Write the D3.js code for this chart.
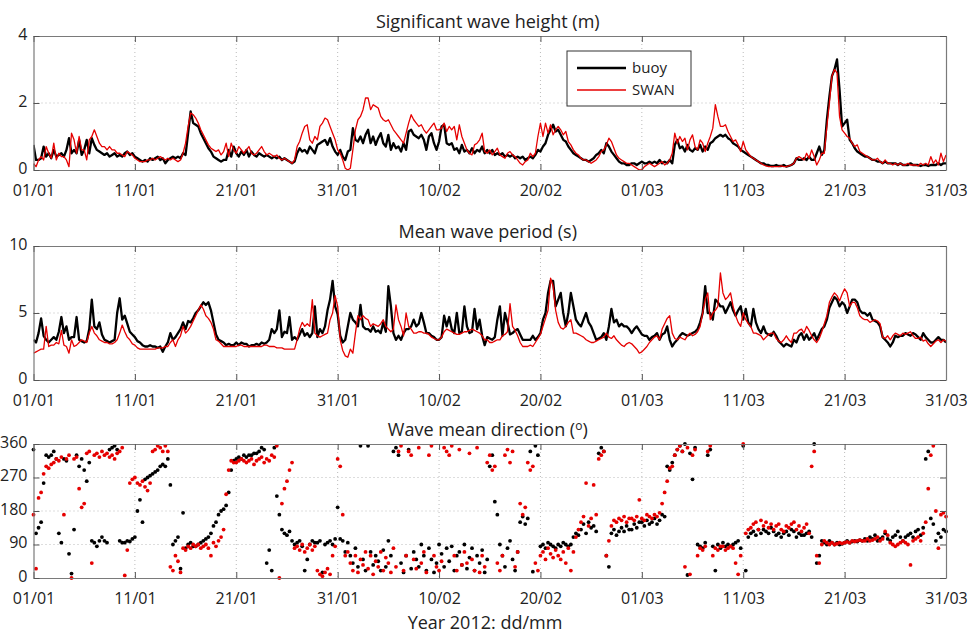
<!DOCTYPE html>
<html><head><meta charset="utf-8">
<script src="https://cdn.jsdelivr.net/npm/d3@7"></script>
<style>
body{margin:0;background:#fff;}
text{font-family:"Open Sans",sans-serif;}
</style>
</head><body>
<svg id="c" width="969" height="633"></svg>
<script>
// ---------- data (6-hourly samples, 01/01/2012 00h .. 31/03/2012 00h) ----------
const tickLabels = ["01/01","11/01","21/01","31/01","10/02","20/02","01/03","11/03","21/03","31/03"];
const tickDateStrings = ["2012-01-01","2012-01-11","2012-01-21","2012-01-31","2012-02-10","2012-02-20","2012-03-01","2012-03-11","2012-03-21","2012-03-31"];
const hsTicks = [0,2,4];
const tmTicks = [0,5,10];
const dirTicks = [0,90,180,270,360];
const seriesNames = ["buoy","SWAN"];

const hsBuoy = [
0.75,0.3,0.3,0.35, 0.7,0.4,0.5,0.35, 0.6,0.4,0.45,0.5, 0.4,0.6,0.95,0.5, 0.6,0.5,0.9,0.45,
0.6,0.9,0.5,0.95, 0.75,0.6,0.55,0.5, 0.45,0.5,0.4,0.45, 0.5,0.4,0.45,0.4, 0.5,0.55,0.45,0.5,
0.4,0.35,0.3,0.25, 0.3,0.25,0.35,0.3, 0.35,0.4,0.3,0.35, 0.2,0.3,0.35,0.4, 0.35,0.4,0.35,0.5,
0.45,1.1,1.75,1.4, 1.35,1.3,1.1,0.95, 0.8,0.65,0.55,0.4, 0.35,0.3,0.25,0.3, 0.3,0.6,0.4,0.7,
0.5,0.4,0.55,0.45, 0.6,0.4,0.55,0.45, 0.4,0.5,0.45,0.4, 0.45,0.4,0.35,0.4, 0.35,0.4,0.3,0.35,
0.3,0.25,0.2,0.25, 0.5,0.65,0.55,0.6, 0.5,0.7,0.6,0.5, 0.75,0.8,0.85,0.9, 0.75,0.95,0.7,0.55,
0.45,0.6,0.4,0.3, 0.55,0.6,1.25,0.9, 0.85,1.0,0.8,1.05, 1.2,0.8,1.0,0.75, 0.95,1.1,0.8,0.7,
1.05,0.6,0.8,0.65, 0.7,0.55,0.8,0.6, 1.15,1.2,1.05,1.0, 0.95,1.05,0.9,0.6, 1.0,1.1,0.8,0.6,
0.85,1.3,1.35,0.8, 0.75,0.8,0.6,0.65, 0.5,0.75,0.55,0.6, 0.5,0.65,0.5,0.6, 0.55,0.7,0.5,0.6,
0.5,0.6,0.45,0.5, 0.45,0.5,0.4,0.45, 0.4,0.45,0.35,0.4, 0.35,0.4,0.3,0.35, 0.4,0.35,0.45,0.6,
0.55,0.7,0.8,1.05, 1.2,1.35,1.15,1.2, 1.05,0.9,0.85,0.7, 0.6,0.5,0.45,0.4, 0.35,0.3,0.3,0.25,
0.3,0.35,0.45,0.5, 0.6,0.5,0.8,0.7, 0.55,0.45,0.35,0.25, 0.2,0.2,0.15,0.15, 0.2,0.2,0.15,0.2,
0.25,0.2,0.2,0.25, 0.2,0.25,0.2,0.3, 0.2,0.25,0.2,0.3, 0.2,0.75,0.9,0.65, 0.7,0.55,0.75,0.6,
0.55,0.65,0.6,0.75, 0.55,0.7,0.6,0.8, 0.85,0.95,1.0,1.05, 1.0,1.05,0.95,0.9, 0.8,0.75,0.7,0.6,
0.55,0.5,0.45,0.4, 0.35,0.3,0.25,0.2, 0.2,0.15,0.15,0.12, 0.12,0.15,0.12,0.12, 0.15,0.1,0.12,0.15,
0.2,0.35,0.3,0.3, 0.35,0.3,0.4,0.3, 0.3,0.5,0.7,0.45, 0.6,1.5,2.2,2.8, 3.0,3.3,2.4,1.3,
1.4,1.5,0.9,0.8, 0.65,0.55,0.5,0.45, 0.4,0.4,0.35,0.3, 0.3,0.25,0.25,0.2, 0.25,0.2,0.2,0.2,
0.2,0.15,0.2,0.15, 0.15,0.15,0.2,0.15, 0.15,0.15,0.12,0.15, 0.15,0.12,0.15,0.15, 0.15,0.2,0.15,0.2,
0.2];

const hsSwan = [
0.2,0.1,0.3,0.4, 0.3,0.7,0.5,0.35, 0.8,0.3,0.5,0.4, 0.4,0.3,0.1,1.1, 0.9,0.5,1.0,0.6,
0.6,0.3,0.9,1.0, 1.2,1.0,0.8,0.7, 0.7,0.6,0.7,0.6, 0.6,0.5,0.5,0.45, 0.4,0.55,0.5,0.45,
0.35,0.3,0.25,0.25, 0.25,0.3,0.3,0.35, 0.3,0.35,0.4,0.35, 0.3,0.35,0.3,0.35, 0.3,0.25,0.3,0.5,
0.8,1.3,1.7,1.65, 1.55,1.4,1.2,1.05, 0.9,0.75,0.65,0.6, 0.55,0.6,0.45,0.55, 0.8,0.4,0.8,0.6,
0.5,0.7,0.6,0.5, 0.6,0.7,0.5,0.45, 0.5,0.6,0.7,0.55, 0.45,0.5,0.45,0.4, 0.45,0.35,0.3,0.35,
0.3,0.25,0.2,0.3, 0.7,0.85,1.1,1.3, 1.35,0.9,0.8,1.0, 0.9,1.3,1.4,1.55, 1.5,1.3,1.1,0.9,
0.6,0.5,0.3,0.05, 0.0,0.05,0.6,1.2, 1.5,1.6,1.8,2.15, 2.15,1.8,1.95,1.9, 1.85,1.6,1.5,1.45,
1.5,1.35,1.2,1.1, 1.0,0.9,0.8,1.1, 1.4,1.65,1.5,1.4, 1.3,1.35,1.2,1.1, 1.2,1.3,1.4,1.2,
1.2,1.25,1.4,1.15, 1.3,1.2,1.3,0.9, 1.35,1.0,0.8,0.6, 0.5,0.45,0.75,0.8, 0.9,1.1,0.55,0.5,
0.6,0.45,0.55,0.65, 0.45,0.4,0.35,0.5, 0.55,0.45,0.4,0.3, 0.2,0.15,0.25,0.3, 0.5,0.4,0.5,1.0,
1.4,1.0,1.4,1.1, 1.35,1.05,1.2,1.3, 1.2,1.05,1.15,0.85, 0.75,0.6,0.5,0.45, 0.35,0.3,0.3,0.25,
0.2,0.25,0.3,0.4, 0.55,0.6,0.75,0.95, 0.85,0.65,0.45,0.35, 0.3,0.25,0.2,0.2, 0.15,0.1,0.05,0.0,
0.0,0.1,0.15,0.2, 0.15,0.1,0.15,0.2, 0.25,0.15,0.2,0.3, 0.5,1.1,0.8,1.0, 0.85,0.95,0.6,0.9,
1.05,0.7,0.6,0.9, 0.8,0.55,0.8,1.0, 1.25,1.95,1.6,1.3, 1.3,1.35,1.15,1.0, 0.85,0.9,0.75,0.55,
0.85,0.6,0.5,0.4, 0.35,0.3,0.25,0.2, 0.15,0.12,0.1,0.1, 0.1,0.1,0.1,0.12, 0.1,0.1,0.12,0.15,
0.2,0.35,0.4,0.35, 0.3,0.5,0.35,0.6, 0.4,0.15,0.3,0.5, 0.5,1.3,2.0,2.8, 3.0,2.9,1.6,1.2,
1.1,1.0,0.95,0.8, 0.7,0.75,0.55,0.5, 0.45,0.4,0.35,0.3, 0.3,0.35,0.25,0.2, 0.3,0.2,0.2,0.15,
0.2,0.15,0.2,0.15, 0.15,0.2,0.15,0.15, 0.15,0.12,0.2,0.15, 0.2,0.15,0.4,0.2, 0.3,0.15,0.5,0.25,
0.45];

const tmBuoy = [
3.0,2.8,3.5,4.6, 3.3,3.0,2.8,3.0, 3.2,3.0,3.6,4.7, 3.5,4.0,3.0,3.2, 3.2,4.7,3.0,2.9,
2.8,2.9,3.8,6.0, 4.0,3.8,4.3,3.4, 3.0,2.9,2.8,2.9, 3.0,5.0,6.1,4.5, 4.8,4.2,3.6,3.4,
3.2,2.9,2.8,2.6, 2.5,2.5,2.6,2.5, 2.5,2.4,2.5,2.1, 2.5,2.8,3.5,3.0, 3.2,3.5,3.8,4.3,
3.8,4.4,4.3,4.6, 5.0,5.2,5.5,5.8, 5.6,5.8,5.2,4.3, 3.4,3.0,2.9,2.8, 2.6,2.7,2.6,2.6,
2.8,2.6,2.8,2.7, 2.7,2.5,2.6,2.6, 2.7,2.6,2.8,2.7, 2.8,3.0,3.8,3.5, 3.8,5.2,3.2,3.6,
3.5,4.7,3.0,3.2, 3.0,3.4,3.8,3.3, 3.5,3.2,3.5,5.5, 3.2,3.8,3.5,4.0, 5.2,6.0,7.4,5.5,
4.9,3.3,2.8,3.0, 4.0,5.0,4.5,4.3, 4.0,5.6,4.0,3.8, 3.8,3.6,4.0,3.6, 3.7,3.5,4.3,3.6,
7.0,5.5,3.5,3.0, 3.3,3.0,3.5,3.8, 3.8,4.0,4.5,4.0, 4.2,5.0,4.3,3.5, 3.5,3.3,3.2,3.0,
3.0,3.2,4.8,4.0, 4.7,3.8,3.5,5.0, 3.5,3.6,5.5,4.0, 3.5,3.6,5.3,3.8, 4.5,3.3,2.6,3.2,
3.1,3.0,3.2,4.5, 5.5,3.3,5.0,4.3, 3.4,3.5,3.7,3.8, 3.4,3.0,3.0,3.0, 3.0,3.3,3.0,3.2,
3.5,4.5,5.0,6.5, 7.4,7.4,5.5,6.0, 6.5,5.0,4.0,5.0, 6.5,5.5,4.5,4.2, 4.0,4.5,5.0,4.3,
4.0,3.5,3.0,3.1, 3.2,3.5,3.0,4.0, 5.3,4.3,4.5,4.0, 4.2,4.0,4.0,3.8, 3.5,3.8,4.0,3.7,
3.4,3.3,3.3,3.0, 3.2,3.3,3.5,3.0, 3.4,3.5,4.0,3.0, 2.5,2.8,3.0,3.3, 3.5,3.4,3.3,3.4,
3.5,3.6,3.8,4.3, 5.0,7.0,5.0,5.0, 4.5,6.0,5.8,5.5, 5.5,5.0,5.4,5.8, 5.2,4.8,5.2,5.5,
4.5,5.3,4.3,4.0, 5.3,4.3,3.8,3.5, 4.0,3.5,3.4,3.3, 3.6,3.3,2.9,2.7, 2.5,2.7,2.6,2.5,
3.0,2.8,3.3,3.5, 3.0,3.4,3.0,3.2, 3.5,3.0,3.4,3.8, 4.0,4.5,5.4,5.8, 6.2,6.0,5.5,5.8,
5.6,5.0,5.5,6.0, 6.0,5.8,5.2,5.0, 5.0,4.8,5.0,4.5, 4.4,4.3,4.0,3.2, 3.0,2.8,2.5,2.8,
3.3,3.2,3.3,3.3, 3.5,3.4,3.3,3.5, 3.4,3.2,3.0,3.5, 3.2,3.0,2.8,2.8, 3.0,3.2,3.0,3.0,
2.8];

const tmSwan = [
2.0,2.1,2.2,2.3, 2.3,4.0,2.5,2.6, 2.6,2.8,2.7,3.7, 2.6,2.5,2.0,3.0, 2.5,2.6,2.8,3.0,
2.9,2.8,3.5,4.0, 3.5,3.3,3.0,2.9, 2.8,2.8,2.7,2.7, 2.8,3.0,3.5,4.1, 3.6,3.2,3.0,2.7,
2.6,2.4,2.3,2.3, 2.3,2.3,2.3,2.3, 2.3,2.4,2.4,2.4, 2.5,2.5,2.8,3.0, 2.5,3.0,3.3,4.0,
3.5,3.7,4.0,4.4, 4.8,5.2,5.6,5.3, 4.8,4.6,4.3,3.8, 3.0,2.9,2.7,2.5, 2.5,2.5,2.5,2.5,
2.5,2.6,2.6,2.5, 2.5,2.5,2.5,2.5, 2.5,2.5,2.5,2.6, 2.6,2.5,2.5,2.5, 2.4,2.4,2.4,2.3,
2.3,2.3,2.3,2.3, 3.0,3.8,4.3,4.0, 4.2,4.0,6.0,3.5, 3.3,3.2,3.3,3.4, 3.5,4.5,5.0,6.3,
5.5,3.0,2.2,1.8, 1.7,2.3,2.0,3.5, 4.8,4.5,4.8,4.6, 4.5,4.0,4.2,4.1, 4.0,4.2,4.5,4.0,
3.8,3.6,3.8,5.6, 4.5,4.0,3.3,5.0, 4.0,3.8,3.5,3.5, 3.6,3.6,3.5,3.5, 3.4,3.2,3.1,3.0,
3.0,3.2,3.6,3.8, 3.7,3.6,3.5,3.4, 3.4,3.5,3.6,3.6, 3.7,3.8,3.7,3.6, 3.5,3.3,3.0,3.0,
2.8,2.8,2.9,3.0, 3.0,3.3,3.4,3.6, 5.7,4.0,3.7,3.3, 2.8,2.5,2.5,2.5, 2.6,2.5,2.8,3.1,
3.4,4.0,4.6,5.2, 7.6,7.0,5.2,4.3, 3.9,3.8,4.0,4.3, 4.5,3.5,3.5,3.4, 3.3,3.2,3.0,2.9,
2.8,2.8,2.9,3.0, 3.1,3.2,3.5,3.2, 3.1,3.3,3.0,2.8, 2.6,2.5,2.7,2.8, 2.7,2.5,2.3,2.0,
2.1,2.3,2.5,2.8, 3.0,3.2,3.3,3.0, 3.8,4.2,4.6,4.8, 3.5,3.1,3.0,3.2, 3.1,3.0,3.3,3.5,
3.3,3.4,3.6,4.0, 5.0,6.0,6.5,4.5, 5.0,5.2,5.5,8.0, 6.5,6.0,6.2,6.5, 5.5,4.8,4.3,4.0,
5.0,4.5,4.2,4.0, 3.5,3.5,3.4,3.3, 3.0,3.2,3.4,3.5, 3.5,3.1,2.9,2.8, 3.0,3.3,3.0,2.8,
3.5,3.5,3.7,3.8, 3.5,4.0,3.7,3.3, 3.0,2.8,3.1,3.6, 4.2,4.8,5.8,6.2, 6.5,6.3,5.9,6.4,
6.8,6.5,5.5,5.8, 5.8,5.4,4.8,4.6, 4.5,4.5,4.3,4.4, 4.5,4.4,4.2,3.2, 3.1,3.3,3.0,3.3,
3.5,3.4,3.3,3.5, 3.4,3.5,3.6,3.3, 3.1,3.1,3.2,2.9, 3.0,2.7,2.5,2.7, 2.9,3.0,2.8,3.0,
2.9];

const dirBuoy = [
345,120,135,150, 255,330,325,330, 340,320,120,95, 320,315,65,12, 130,330,300,320,
290,260,310,100, 95,85,100,110, 100,95,345,350, 355,345,100,95, 95,100,98,105,
110,180,210,150, 265,270,275,280, 285,290,300,305, 300,320,250,90, 100,110,25,175,
80,90,95,85, 85,90,95,100, 105,110,120,140, 150,170,180,185, 195,230,290,315,
320,325,320,330, 325,330,330,335, 335,340,350,345, 40,75,20,350, 220,170,130,120,
115,125,100,90, 95,100,85,20, 50,90,100,95, 95,100,15,90, 95,100,90,105,
190,105,100,70, 95,60,40,80, 30,355,50,20, 355,70,35,60, 45,20,75,30,
100,60,340,350, 330,40,15,60, 345,25,70,50, 30,90,60,20, 80,50,15,40,
90,65,30,80, 45,85,20,60, 70,35,90,25, 55,80,20,60, 40,75,15,50,
300,330,205,170, 90,60,30,80, 100,50,20,70, 150,165,145,160, 340,17,355,330,
85,90,80,95, 90,85,80,90, 85,95,90,85, 90,110,120,115, 130,145,120,150,
135,140,125,335, 350,340,60,30, 120,130,115,125, 135,125,140,130, 130,145,135,150,
150,140,155,145, 150,160,145,155, 170,165,300,290, 310,330,345,355, 340,360,8,335,
265,350,90,85, 80,95,330,345, 85,20,90,80, 95,85,90,85, 90,95,100,80,
355,20,110,120, 125,115,130,120, 130,125,120,135, 125,115,120,110, 120,125,115,130,
125,110,120,115, 115,120,125,110, 360,40,60,100, 95,90,100,95, 90,95,90,92,
95,100,95,98, 100,98,102,100, 105,100,110,105, 115,100,105,110, 120,105,100,110,
115,125,110,100, 110,115,120,110, 125,130,115,135, 320,340,160,145, 100,120,110,130,
125];

const dirSwan = [
170,25,215,230, 280,300,295,305, 310,320,315,325, 170,320,330,0, 320,325,240,190,
200,335,340,40, 330,335,325,340, 330,335,325,330, 320,335,340,350, 7,75,255,265,
270,255,250,260, 245,235,255,340, 345,355,350,340, 355,340,30,20, 60,45,15,80,
75,85,80,90, 85,90,80,85, 90,80,60,95, 85,100,110,130, 225,290,315,310,
310,315,320,315, 310,315,320,305, 315,320,325,310, 320,315,330,325, 355,0,200,240,
260,290,310,80, 85,75,90,70, 80,90,75,85, 20,10,5,15, 25,10,60,85,
320,300,170,60, 70,40,20,60, 15,50,35,70, 25,60,10,45, 30,70,20,55,
40,15,80,30, 340,355,20,60, 340,330,50,25, 350,40,70,15, 330,355,60,30,
20,45,350,340, 330,355,60,20, 345,35,70,40, 335,50,20,350, 15,60,30,310,
330,290,300,40, 20,60,330,345, 310,340,30,70, 200,170,190,310, 290,300,40,20,
60,70,50,80, 65,55,75,60, 50,70,40,80, 20,70,110,130, 150,165,255,140,
160,250,170,320, 330,340,60,100, 140,155,150,160, 155,165,150,160, 160,155,165,210,
160,155,170,165, 160,170,165,175, 200,230,260,295, 300,330,345,355, 340,30,350,10,
330,345,60,80, 75,85,340,355, 60,80,75,85, 85,75,80,85, 80,40,10,60,
360,120,130,135, 145,150,130,155, 140,150,135,145, 130,140,145,130, 125,140,135,145,
150,130,140,125, 135,145,120,300, 340,60,40,90, 100,95,90,95, 90,92,95,93,
95,97,95,100, 98,100,102,100, 100,105,100,102, 105,110,100,105, 125,115,95,90,
85,90,95,100, 95,90,35,100, 105,110,100,120, 150,240,330,355, 180,80,170,175,
165];

// ---------- layout ----------
const svg = d3.select("#c");
const X0 = 33.5, X1 = 946;
const t0 = Date.UTC(2012,0,1);
const timeOf = i => new Date(t0 + i*6*3600*1000);
const tickDates = tickDateStrings.map(s => new Date(s + "T00:00:00Z"));
const x = d3.scaleUtc().domain([new Date(t0), new Date(Date.UTC(2012,2,31))]).range([X0, X1]);

const RED = "#e60000";
const AXC = "#7a7a7a";

function panel(cfg){
  const y = d3.scaleLinear().domain(cfg.domain).range([cfg.bottom, cfg.top]);
  const g = svg.append("g");
  const cid = "clip" + cfg.id;
  svg.append("defs").append("clipPath").attr("id", cid)
    .append("rect").attr("x", X0).attr("y", cfg.top - 1).attr("width", X1 - X0).attr("height", cfg.bottom - cfg.top + 2);

  // grid
  g.append("g").selectAll("line").data(tickDates.slice(1, -1)).join("line")
    .attr("x1", d => x(d)).attr("x2", d => x(d)).attr("y1", cfg.top).attr("y2", cfg.bottom)
    .attr("stroke", "#aaa").attr("stroke-width", 0.8).attr("stroke-dasharray", "1,3");
  g.append("g").selectAll("line").data(cfg.ticks.slice(1, -1)).join("line")
    .attr("x1", X0).attr("x2", X1).attr("y1", d => y(d)).attr("y2", d => y(d))
    .attr("stroke", "#aaa").attr("stroke-width", 0.8).attr("stroke-dasharray", "1,3");

  // data
  if (cfg.type === "line") {
    const line = d3.line().defined(d => d != null).x((d, i) => x(timeOf(i))).y(d => y(d));
    const dg = g.append("g").attr("clip-path", `url(#${cid})`);
    dg.append("path").datum(cfg.a).attr("d", line).attr("fill", "none")
      .attr("stroke", "#000").attr("stroke-width", 2.3).attr("stroke-linejoin", "round");
    dg.append("path").datum(cfg.b).attr("d", line).attr("fill", "none")
      .attr("stroke", RED).attr("stroke-width", 1.3).attr("stroke-linejoin", "round");
  } else {
    const pts = arr => arr.map((v, i) => ({v, i})).filter(d => d.v != null);
    g.append("g").selectAll("circle").data(pts(cfg.a)).join("circle")
      .attr("cx", d => x(timeOf(d.i))).attr("cy", d => y(d.v)).attr("r", 1.9).attr("fill", "#000");
    g.append("g").selectAll("circle").data(pts(cfg.b)).join("circle")
      .attr("cx", d => x(timeOf(d.i))).attr("cy", d => y(d.v)).attr("r", 1.9).attr("fill", RED);
  }

  // axes (ticks inward on all four sides)
  const ax = [];
  ax.push(g.append("g").attr("transform", `translate(0,${cfg.bottom})`)
    .call(d3.axisBottom(x).tickValues(tickDates).tickFormat((d, i) => tickLabels[i])
      .tickSize(-6).tickSizeOuter(0).tickPadding(15)));
  ax.push(g.append("g").attr("transform", `translate(0,${cfg.top})`)
    .call(d3.axisTop(x).tickValues(tickDates).tickFormat("").tickSize(-6).tickSizeOuter(0)));
  const left = g.append("g").attr("transform", `translate(${X0},0)`)
    .call(d3.axisLeft(y).tickValues(cfg.ticks).tickFormat(d3.format("d"))
      .tickSize(-6).tickSizeOuter(0).tickPadding(6));
  left.selectAll(".tick text").attr("dy", "0.2em");
  ax.push(left);
  ax.push(g.append("g").attr("transform", `translate(${X1},0)`)
    .call(d3.axisRight(y).tickValues(cfg.ticks).tickFormat("").tickSize(-6).tickSizeOuter(0)));
  ax.forEach(a => {
    a.select(".domain").attr("stroke", AXC).attr("stroke-width", 1.2);
    a.selectAll(".tick line").attr("stroke", "#555").attr("stroke-width", 1);
    a.selectAll(".tick text").attr("fill", "#222").style("font-size", "16px")
      .style("font-family", '"Open Sans",sans-serif');
  });

  // title
  const tt = svg.append("text").attr("x", (X0 + X1) / 2 - 2).attr("y", cfg.top - 8)
    .attr("text-anchor", "middle").attr("fill", "#222").style("font-size", "18px");
  tt.text(cfg.title);
  if (cfg.sup) {
    tt.text(cfg.title + " (");
    tt.append("tspan").attr("dy", -6).style("font-size", "12px").text("o");
    tt.append("tspan").attr("dy", 6).text(")");
  }
  return y;
}

panel({id: 1, top: 36, bottom: 170, domain: [0, 4], ticks: hsTicks, type: "line",
       a: hsBuoy, b: hsSwan, title: "Significant wave height (m)"});
panel({id: 2, top: 246, bottom: 380, domain: [0, 10], ticks: tmTicks, type: "line",
       a: tmBuoy, b: tmSwan, title: "Mean wave period (s)"});
panel({id: 3, top: 444, bottom: 578, domain: [0, 360], ticks: dirTicks, type: "dots",
       a: dirBuoy, b: dirSwan, title: "Wave mean direction", sup: true});

// legend
const lg = svg.append("g");
lg.append("rect").attr("x", 567).attr("y", 51).attr("width", 124).attr("height", 55)
  .attr("fill", "#fff").attr("stroke", "#333").attr("stroke-width", 1);
const legendItems = [{name: seriesNames[0], color: "#000", w: 2.5, y: 68},
                     {name: seriesNames[1], color: RED, w: 1.4, y: 90}];
lg.selectAll("line").data(legendItems).join("line")
  .attr("x1", 577).attr("x2", 626).attr("y1", d => d.y).attr("y2", d => d.y)
  .attr("stroke", d => d.color).attr("stroke-width", d => d.w);
lg.selectAll("text").data(legendItems).join("text")
  .attr("x", 632).attr("y", d => d.y + 5).attr("fill", "#222").style("font-size", "15px")
  .text(d => d.name);

// x axis label
svg.append("text").attr("x", 485).attr("y", 629).attr("text-anchor", "middle")
  .attr("fill", "#222").style("font-size", "18px").text("Year 2012: dd/mm");
</script>
</body></html>
